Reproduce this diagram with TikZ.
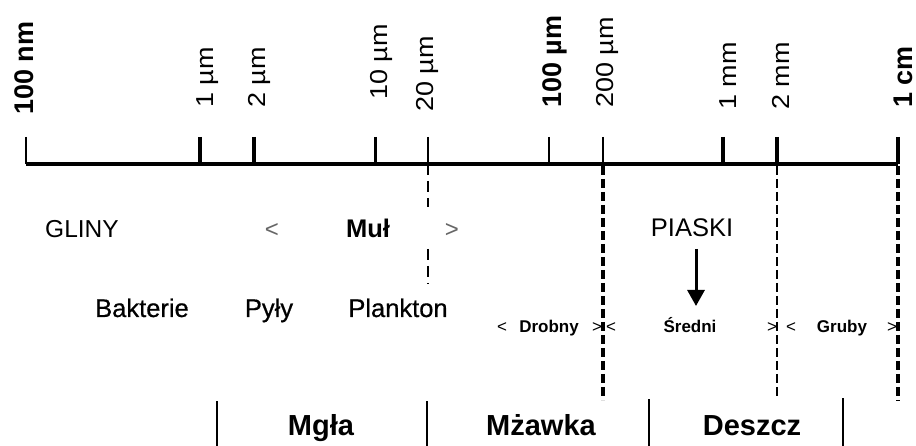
\documentclass[tikz,border=0pt]{standalone}
\usepackage{fontspec}
\usepackage{graphicx}
\setmainfont{Liberation Sans}
\newfontfamily\semib[FakeBold=0.6]{Liberation Sans}
\usetikzlibrary{arrows.meta}
\begin{document}
\begin{tikzpicture}[x=1pt,y=-1pt,
  vlab/.style={rotate=90, anchor=base west, inner sep=0pt, text depth=0pt, font=\fontsize{24.5}{24.5}\selectfont},
  vlabb/.style={rotate=90, anchor=base west, inner sep=0pt, text depth=0pt, font=\fontsize{27}{27}\selectfont\bfseries},
  axisline/.style={line width=3.5pt},
  tickthin/.style={line width=2.5pt},
  tickthick/.style={line width=4.5pt},
  dthick/.style={line width=4pt, dash pattern=on 9pt off 4pt},
  dthin/.style={line width=2.5pt, dash pattern=on 9pt off 4pt},
  dmid/.style={line width=2.5pt, dash pattern=on 11pt off 6pt},
  sepline/.style={line width=2.5pt},
  midtxt/.style={anchor=base, inner sep=0pt, font=\fontsize{24.5}{24.5}\selectfont},
  bigtxt/.style={anchor=base, inner sep=0pt, font=\fontsize{25.5}{25.5}\selectfont},
  orgtxt/.style={anchor=base, inner sep=0pt, font=\fontsize{25.5}{25.5}\semib},
  graytxt/.style={anchor=base, inner sep=0pt, text=black!60, font=\fontsize{24}{24}\selectfont},
  smalltxt/.style={anchor=base, inner sep=0pt, font=\fontsize{17}{17}\selectfont\bfseries},
  smallsym/.style={anchor=base, inner sep=0pt, font=\fontsize{17}{17}\selectfont},
  raintxt/.style={anchor=base, inner sep=0pt, font=\fontsize{29}{29}\selectfont\bfseries},
  piaskiarrow/.style={line width=3pt, -{Triangle[width=17pt,length=16pt]}}
]
\useasboundingbox (0,0) rectangle (916,446);

% axis end points and tick tops
\coordinate (ax0) at (26,164);
\coordinate (ax9) at (898,164);
\coordinate (t0) at (26,137);
\coordinate (t1) at (200,137);
\coordinate (t2) at (254,137);
\coordinate (t3) at (375.5,137);
\coordinate (t4) at (428,137);
\coordinate (t5) at (549,137);
\coordinate (t6) at (603,137);
\coordinate (t7) at (723,137);
\coordinate (t8) at (777,137);
\coordinate (t9) at (898,137);
\coordinate (b0) at (26,164);
\coordinate (b1) at (200,164);
\coordinate (b2) at (254,164);
\coordinate (b3) at (375.5,164);
\coordinate (b4) at (428,164);
\coordinate (b5) at (549,164);
\coordinate (b6) at (603,164);
\coordinate (b7) at (723,164);
\coordinate (b8) at (777,164);
\coordinate (b9) at (898,164);

\draw[axisline] (ax0) -- (ax9);
\draw[tickthin]  (t0) -- (b0);
\draw[tickthick] (t1) -- (b1);
\draw[tickthick] (t2) -- (b2);
\draw[tickthin]  (t3) -- (b3);
\draw[tickthin]  (t4) -- (b4);
\draw[tickthin]  (t5) -- (b5);
\draw[tickthin]  (t6) -- (b6);
\draw[tickthick] (t7) -- (b7);
\draw[tickthick] (t8) -- (b8);
\draw[line width=3.5pt] (t9) -- (b9);

% tick labels
\node[vlabb] (lab0) at (33,115) {100 nm};
\node[vlab]  (lab1) at (213,108) {\scalebox{1.1}[1]{1 µm}};
\node[vlab]  (lab2) at (265,108) {\scalebox{1.1}[1]{2 µm}};
\node[vlab]  (lab3) at (387,100) {\scalebox{1.1}[1]{10 µm}};
\node[vlab]  (lab4) at (433,112) {\scalebox{1.1}[1]{20 µm}};
\node[vlabb] (lab5) at (561,108) {100 µm};
\node[vlab]  (lab6) at (613,108) {\scalebox{1.1}[1]{200 µm}};
\node[vlab]  (lab7) at (736,110) {\scalebox{1.1}[1]{1 mm}};
\node[vlab]  (lab8) at (789,110) {\scalebox{1.1}[1]{2 mm}};
\node[vlabb] (lab9) at (912,108) {1 cm};

% dashed guide lines
\coordinate (d4a) at (428,164);
\coordinate (d4b) at (428,207);
\coordinate (d4c) at (428,249);
\coordinate (d4d) at (428,284);
\coordinate (d6a) at (603,166);
\coordinate (d6b) at (603,400);
\coordinate (d8a) at (777,166);
\coordinate (d8b) at (777,398);
\coordinate (d9a) at (898,166);
\coordinate (d9b) at (898,401);
\draw[dmid] (d4a) -- (d4b);
\draw[dmid] (d4c) -- (d4d);
\draw[dthick] (d6a) -- (d6b);
\draw[dthin] (d8a) -- (d8b);
\draw[dthick] (d9a) -- (d9b);

% soil classes
\node[midtxt] (gliny) at (82,238) {GLINY};
\node[graytxt] (ltm) at (272,238) {<};
\node[bigtxt, font=\fontsize{25.5}{25.5}\selectfont\bfseries] (mul) at (368,238) {Muł};
\node[graytxt] (gtm) at (452,238) {>};
\node[bigtxt] (piaski) at (692,237) {PIASKI};

% organisms
\node[orgtxt] (bakt) at (142,317) {Bakterie};
\node[orgtxt] (pyly) at (269,317) {Pyły};
\node[orgtxt] (plank) at (398,317) {Plankton};

% sand fractions
\node[smallsym] (lt1) at (502,333) {<};
\node[smalltxt] (drobny) at (549,333) {Drobny};
\node[smallsym] (gt1) at (597,333) {>};
\node[smallsym] (lt2) at (611,333) {<};
\node[smalltxt] (sredni) at (690,333) {Średni};
\node[smallsym] (gt2) at (772,333) {>};
\node[smallsym] (lt3) at (791,333) {<};
\node[smalltxt] (gruby) at (842,333) {Gruby};
\node[smallsym] (gt3) at (892,333) {>};

% arrow PIASKI -> Średni
\coordinate (arrS) at (696,249);
\coordinate (arrE) at (696,306);
\draw[piaskiarrow] (arrS) -- (arrE);

% precipitation
\coordinate (s1a) at (217,401);
\coordinate (s1b) at (217,446);
\coordinate (s2a) at (427,401);
\coordinate (s2b) at (427,446);
\coordinate (s3a) at (649,399);
\coordinate (s3b) at (649,446);
\coordinate (s4a) at (843,398);
\coordinate (s4b) at (843,446);
\draw[sepline] (s1a) -- (s1b);
\draw[sepline] (s2a) -- (s2b);
\draw[sepline] (s3a) -- (s3b);
\draw[sepline] (s4a) -- (s4b);
\node[raintxt] (mgla) at (321,435) {Mgła};
\node[raintxt] (mzawka) at (541,435) {Mżawka};
\node[raintxt] (deszcz) at (752,435) {Deszcz};
\end{tikzpicture}
\end{document}
